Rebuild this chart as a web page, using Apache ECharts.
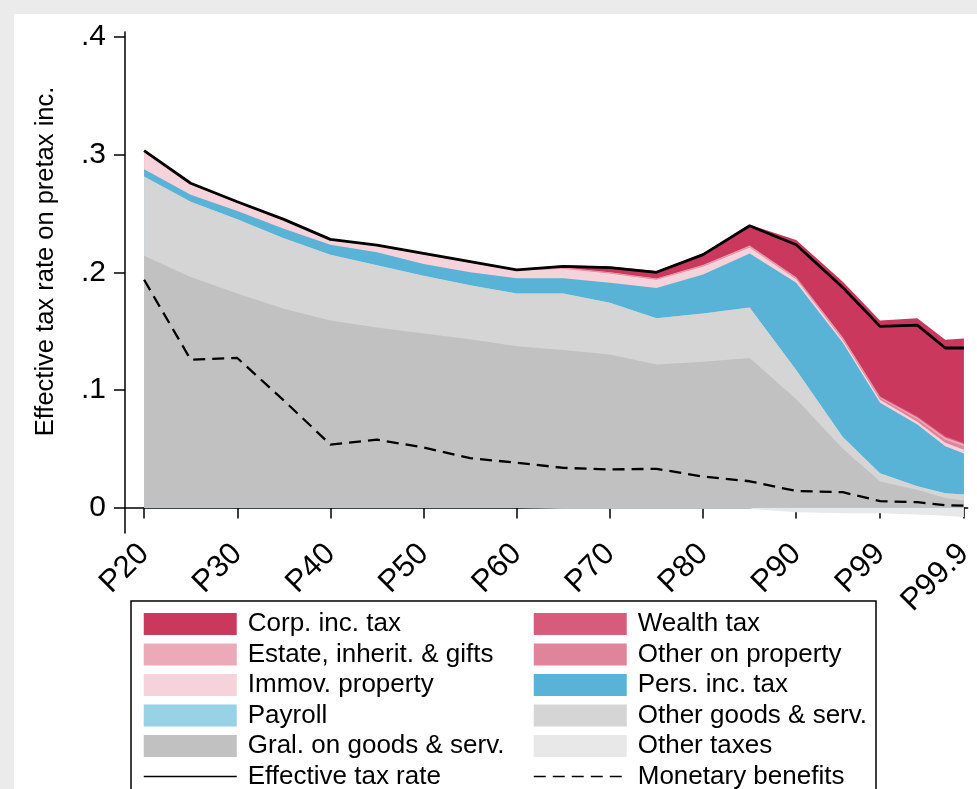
<!DOCTYPE html>
<html>
<head>
<meta charset="utf-8">
<script src="https://cdn.jsdelivr.net/npm/echarts@6/dist/echarts.min.js"></script>
<style>
html, body { margin: 0; padding: 0; width: 977px; height: 789px; overflow: hidden; background: #ebebeb; }
#panel { position: absolute; left: 14px; top: 14px; width: 963px; height: 775px; background: #fff; }
#chart { position: absolute; left: 0; top: 0; width: 977px; height: 789px; }
</style>
</head>
<body>
<div id="panel"></div>
<div id="chart"></div>
<script>
// percentile positions on the x scale (top 1% spread out after P99)
const xPos = [20, 25, 30, 35, 40, 45, 50, 55, 60, 65, 70, 75, 80, 85, 90, 95, 99, 103, 106, 108];
const xTickValues = [20, 30, 40, 50, 60, 70, 80, 90, 99, 108];
const xTickLabels = ['P20', 'P30', 'P40', 'P50', 'P60', 'P70', 'P80', 'P90', 'P99', 'P99.9'];
const yTickValues = [0, 0.1, 0.2, 0.3, 0.4];
const yTickLabels = ['0', '.1', '.2', '.3', '.4'];

// tax components (share of pretax income)
const otherTaxes = [0, 0, 0, 0, 0, 0, 0, 0, -0.0005, -0.001, -0.001, -0.001, -0.001, -0.001, -0.004, -0.005, -0.005, -0.006, -0.007, -0.008];
const gralGoods = [0.214, 0.196, 0.182, 0.169, 0.159, 0.153, 0.148, 0.143, 0.137, 0.134, 0.130, 0.1215, 0.124, 0.127, 0.092, 0.050, 0.022, 0.015, 0.008, 0.006];
const otherGoods = [0.0674, 0.064, 0.063, 0.060, 0.056, 0.053, 0.049, 0.046, 0.045, 0.048, 0.044, 0.0395, 0.041, 0.043, 0.025, 0.010, 0.007, 0.003, 0.004, 0.005];
const payroll = [0, 0, 0, 0, 0, 0, 0, 0, 0, 0, 0, 0, 0, 0, 0, 0, 0, 0, 0, 0];
const persInc = [0.0063, 0.006, 0.007, 0.008, 0.0084, 0.011, 0.010, 0.011, 0.013, 0.013, 0.017, 0.0256, 0.033, 0.046, 0.074, 0.080, 0.060, 0.0525, 0.040, 0.035];
const immov = [0.0145, 0.0087, 0.0071, 0.0071, 0.0038, 0.0052, 0.008, 0.008, 0.0063, 0.008, 0.008, 0.007, 0.007, 0.005, 0.003, 0.0025, 0.0025, 0.0025, 0.003, 0.003];
const otherProperty = [0.0005, 0.0004, 0.0004, 0.0004, 0.0004, 0.0004, 0.0005, 0.0005, 0.0005, 0.0005, 0.0005, 0.0005, 0.0006, 0.0008, 0.0008, 0.001, 0.0015, 0.002, 0.0025, 0.003];
const estate = [0.0008, 0.0006, 0.0005, 0.0005, 0.0004, 0.0004, 0.0005, 0.0005, 0.0005, 0.0005, 0.0005, 0.0005, 0.0006, 0.0008, 0.0008, 0.001, 0.001, 0.0015, 0.002, 0.002];
const wealth = [0, 0, 0, 0, 0, 0, 0, 0, 0, 0, 0, 0.0001, 0.0002, 0.0003, 0.0005, 0.0005, 0.0005, 0.001, 0.001, 0.001];
const corp = [0, 0, 0, 0, 0, 0, 0, 0, 0.0002, 0.002, 0.005, 0.0063, 0.0096, 0.0176, 0.0313, 0.047, 0.0645, 0.0835, 0.0821, 0.0886];

const effRate = [0.3035, 0.2757, 0.260, 0.245, 0.228, 0.223, 0.216, 0.209, 0.202, 0.205, 0.204, 0.200, 0.215, 0.2395, 0.2234, 0.187, 0.154, 0.155, 0.1356, 0.1356];
const monetary = [0.1936, 0.1257, 0.1271, 0.091, 0.0535, 0.0577, 0.051, 0.042, 0.038, 0.0337, 0.0323, 0.0329, 0.0263, 0.0223, 0.014, 0.013, 0.0054, 0.0045, 0.002, 0.0015];

const FONT = "'Liberation Sans', Arial, sans-serif";
const pts = arr => xPos.map((x, i) => [x, arr[i]]);

// positive layers, bottom of the stack first
const layers = [
  { name: 'Gral. on goods & serv.', values: gralGoods, color: '#c1c1c1' },
  { name: 'Other goods & serv.', values: otherGoods, color: '#d5d5d5' },
  { name: 'Payroll', values: payroll, color: '#97d2e6' },
  { name: 'Pers. inc. tax', values: persInc, color: '#58b3d6' },
  { name: 'Immov. property', values: immov, color: '#f6d2da' },
  { name: 'Other on property', values: otherProperty, color: '#e0849b' },
  { name: 'Estate, inherit. & gifts', values: estate, color: '#eca9b8' },
  { name: 'Wealth tax', values: wealth, color: '#d75b7c' },
  { name: 'Corp. inc. tax', values: corp, color: '#cb385e' }
];

const area = (name, values, color) => ({
  name: name,
  type: 'line',
  data: pts(values),
  symbol: 'none',
  lineStyle: { width: 0 },
  areaStyle: { color: color, opacity: 1 },
  itemStyle: { color: color },
  emphasis: { disabled: true },
  z: 2
});

// running totals: each layer is filled from zero up to its cumulative top,
// painted from the top layer down so lower layers sit over it
let running = xPos.map(() => 0);
const cumulative = layers.map(l => {
  running = running.map((v, i) => v + l.values[i]);
  return running.slice();
});
const areaSeries = [area('Other taxes', otherTaxes, '#e8e8e8')];
for (let k = layers.length - 1; k >= 0; k--) {
  areaSeries.push(area(layers[k].name, cumulative[k], layers[k].color));
}

const chart = echarts.init(document.getElementById('chart'));

const lineLegendItem = name => ({ name: name, itemStyle: { opacity: 0 } });

const legendBase = {
  orient: 'vertical',
  top: 611,
  height: 185,
  padding: 0,
  itemWidth: 93,
  itemHeight: 22,
  itemGap: 4.5,
  selectedMode: false,
  textStyle: { fontFamily: FONT, fontSize: 26, color: '#000', padding: [0, 0, 0, 6] },
  lineStyle: { width: 1.5 }
};

chart.setOption({
  animation: false,
  backgroundColor: 'transparent',
  grid: { left: 125, right: 0, top: 32, bottom: 256 },
  xAxis: {
    type: 'value',
    min: 17.95,
    max: 108.4,
    splitLine: { show: false },
    axisLine: { lineStyle: { color: '#000', width: 1.5 } },
    axisTick: { customValues: xTickValues, length: 11, lineStyle: { color: '#000', width: 1.5 } },
    axisLabel: {
      customValues: xTickValues,
      rotate: 45,
      margin: 16,
      fontFamily: FONT,
      fontSize: 31,
      color: '#000',
      formatter: v => xTickLabels[xTickValues.indexOf(v)]
    }
  },
  yAxis: {
    type: 'value',
    min: -0.0217,
    max: 0.4043,
    splitLine: { show: false },
    axisLine: { show: true, lineStyle: { color: '#000', width: 1.5 } },
    axisTick: { show: true, customValues: yTickValues, length: 11, lineStyle: { color: '#000', width: 1.5 } },
    axisLabel: {
      customValues: yTickValues,
      margin: 19,
      fontFamily: FONT,
      fontSize: 30,
      color: '#000',
      formatter: v => yTickLabels[yTickValues.findIndex(t => Math.abs(t - v) < 1e-9)]
    },
    name: 'Effective tax rate on pretax inc.',
    nameLocation: 'middle',
    nameGap: 66,
    nameTextStyle: { fontFamily: FONT, fontSize: 25.5, color: '#000', padding: [0, 0, 0, 42] }
  },
  legend: [
    Object.assign({}, legendBase, {
      left: 143,
      data: [
        { name: 'Corp. inc. tax', icon: 'rect' },
        { name: 'Estate, inherit. & gifts', icon: 'rect' },
        { name: 'Immov. property', icon: 'rect' },
        { name: 'Payroll', icon: 'rect' },
        { name: 'Gral. on goods & serv.', icon: 'rect' },
        lineLegendItem('Effective tax rate')
      ]
    }),
    Object.assign({}, legendBase, {
      left: 533,
      data: [
        { name: 'Wealth tax', icon: 'rect' },
        { name: 'Other on property', icon: 'rect' },
        { name: 'Pers. inc. tax', icon: 'rect' },
        { name: 'Other goods & serv.', icon: 'rect' },
        { name: 'Other taxes', icon: 'rect' },
        lineLegendItem('Monetary benefits')
      ]
    })
  ],
  graphic: [{
    type: 'rect',
    shape: { x: 131, y: 601, width: 745, height: 200 },
    style: { fill: 'none', stroke: '#000', lineWidth: 1.5 },
    silent: true
  }],
  series: areaSeries.concat([
    {
      name: 'Effective tax rate',
      type: 'line',
      data: pts(effRate),
      symbol: 'none',
      lineStyle: { color: '#000', width: 2.8 },
      itemStyle: { color: '#000' },
      emphasis: { disabled: true },
      z: 5
    },
    {
      name: 'Monetary benefits',
      type: 'line',
      data: pts(monetary),
      symbol: 'none',
      lineStyle: { color: '#000', width: 2.3, type: [12, 7] },
      itemStyle: { color: '#000' },
      emphasis: { disabled: true },
      z: 5
    }
  ])
});
</script>
</body>
</html>
